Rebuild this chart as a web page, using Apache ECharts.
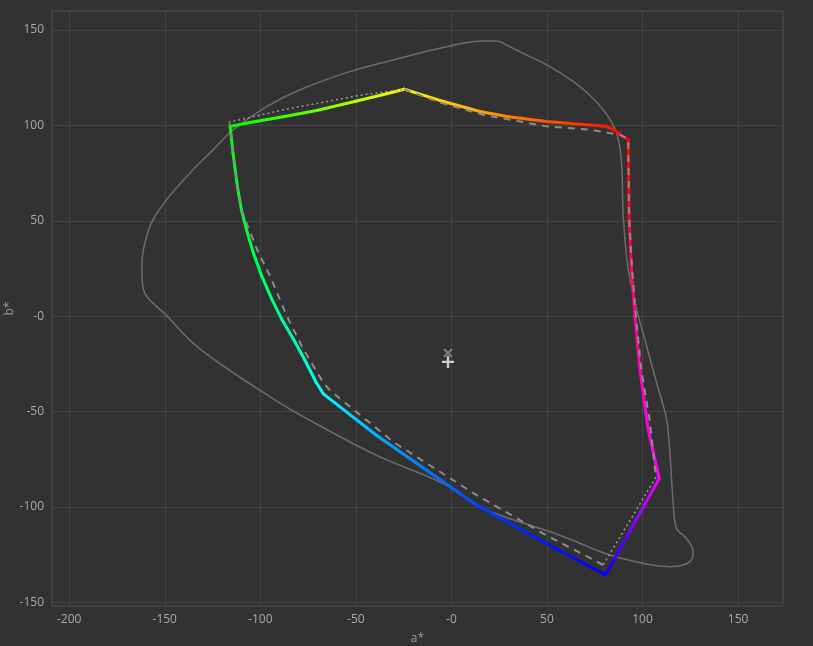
<!DOCTYPE html>
<html>
<head>
<meta charset="utf-8">
<script src="https://cdn.jsdelivr.net/npm/echarts@6/dist/echarts.min.js"></script>
<style>
html,body{margin:0;padding:0;background:#323232;}
#chart{width:813px;height:646px;}
</style>
</head>
<body>
<div id="chart"></div>
<script>
// Outer gray boundary (a*, b*)
const locusA = [-30.4, -6, 16.6, 23.6, 30, 37.6, 51.5, 67.2, 79.4, 86.4, 89, 89.9, 92.5, 96.9, 102.1, 107.3, 112.5, 114.3, 116, 117.8, 123, 126.5, 125.6, 121.2, 114.3, 100.3, 82.9, 56.7, 16.6, -4.3, -39.1, -74, -93.2, -131.5, -148.9, -161.2, -162, -157.7, -148.9, -136.8, -124.6, -114.1, -96.7, -79.2, -53.1, -30.4];
const locusB = [134.3, 140.5, 144.3, 144.3, 141.5, 137.8, 130.8, 120.4, 108.2, 96, 80.3, 52.4, 24.6, 3.7, -15.5, -34.7, -53.8, -71.3, -97.4, -111.3, -116.6, -123.5, -127.9, -130.5, -131.4, -129.6, -125.3, -114.9, -100.9, -87.8, -73, -54.7, -43.4, -17.3, 0.2, 14.1, 26.3, 47.2, 61.2, 75.1, 87.3, 97.8, 109.9, 118.7, 128.2, 134.3];

// Coloured gamut outline G -> Y -> R -> M -> B -> C -> G
const gamutA = [-115.8, -105.4, -88, -70.5, -49.6, -33.9, -24.8, -6, 14.9, 30, 49.8, 81.2, 84.6, 92.5, 93, 94.2, 96, 98.6, 102.9, 108.7, 80.6, 48, 13.2, -39.1, -67, -70.8, -77, -82.7, -88.8, -94, -99.3, -103.7, -107.3, -109.9, -112, -114.3, -115.8];
const gamutB = [99.5, 101.5, 104.5, 107.8, 112.8, 116.6, 119, 113.1, 107.3, 104.6, 102.1, 99.5, 97.8, 92.5, 50.7, 24.6, 0.2, -27.7, -59, -85.2, -135.7, -118.3, -99, -62.6, -40.8, -34.7, -22.5, -12, -1.6, 8.9, 21.1, 33.3, 45.5, 55.9, 68.1, 85.6, 99.5];

// Reference gamut, dashed parts
const refDash1A = [79.4, 48, 13.2, -30.4, -63.5, -67, -77.5, -86.2, -94.9, -101, -106, -109.9, -112, -114.3, -116];
const refDash1B = [-130.5, -114, -93.9, -66, -39, -35, -17.3, 0.2, 21.1, 33.3, 45.5, 55.9, 68.1, 85.6, 101];
const refDash2A = [-24.8, -6, 16.6, 49.8, 72.4, 88.1, 92.5, 93, 94.5, 96.5, 99.3, 103.8, 107];
const refDash2B = [119, 112, 105.6, 99.5, 97.8, 95.1, 93, 50.7, 24.6, 0.2, -27.7, -55, -84.5];
// Reference gamut, dotted parts
const refDot1A = [-116.7, -88, -49.6, -24.8];
const refDot1B = [101.6, 108.2, 115.5, 119];
const refDot2A = [107, 79.4];
const refDot2B = [-84.5, -130.5];

// White point markers
const whitePlus = [-1.8, -24];
const whiteCross = [-1.8, -19.3];

const xTicksMin = -209, xTicksMax = 173.5;
const yTicksMin = -152, yTicksMax = 160;

function zip(a, b) { return a.map((v, i) => [v, b[i]]); }

// hue of each outline point from its Lab hue angle
const hueAnchors = [[139.33, 120], [101.8, 60], [45, 0], [-38.1, -60], [-59.3, -120], [-148.7, -180], [-220.67, -240]];
function colorFor(a, b) {
  let ang = Math.atan2(b, a) * 180 / Math.PI;
  if (ang > 140) ang -= 360;
  let h = 120;
  for (let i = 0; i < hueAnchors.length - 1; i++) {
    const [a0, h0] = hueAnchors[i], [a1, h1] = hueAnchors[i + 1];
    if (ang <= a0 + 0.01 && ang >= a1 - 0.01) {
      const t = (a0 - ang) / (a0 - a1);
      h = h0 + (h1 - h0) * Math.max(0, Math.min(1, t));
      break;
    }
  }
  h = ((h % 360) + 360) % 360;
  return 'hsl(' + h.toFixed(1) + ',100%,50%)';
}

const segs = [];
for (let i = 0; i < gamutA.length - 1; i++) {
  const a1 = gamutA[i], b1 = gamutB[i], a2 = gamutA[i + 1], b2 = gamutB[i + 1];
  const c1 = colorFor(a1, b1), c2 = colorFor(a2, b2);
  const x = a1 <= a2 ? 0 : 1, y = b1 >= b2 ? 0 : 1;
  segs.push({
    coords: [[a1, b1], [a2, b2]],
    lineStyle: {
      color: new echarts.graphic.LinearGradient(x, y, 1 - x, 1 - y, [
        { offset: 0, color: c1 }, { offset: 1, color: c2 }
      ])
    }
  });
}

const fmt = v => (v === 0 ? '-0' : String(v));
const labelStyle = { color: '#a9a9a9', fontSize: 12, fontFamily: 'Open Sans' };

function grayLine(a, b, dash, width, color) {
  return {
    type: 'line', data: zip(a, b), showSymbol: false, symbol: 'none', silent: true, z: 4,
    lineStyle: { color: color, width: width, type: dash }
  };
}

const chart = echarts.init(document.getElementById('chart'), null, { renderer: 'canvas' });
chart.setOption({
  backgroundColor: '#323232',
  animation: false,
  grid: { left: 52, right: 30, top: 11, bottom: 40, show: true, borderColor: '#4a4a4a', borderWidth: 1,
          containLabel: false, outerBoundsMode: 'none' },
  xAxis: {
    type: 'value', min: xTicksMin, max: xTicksMax, minInterval: 50, maxInterval: 50,
    name: 'a*', nameLocation: 'middle', nameGap: 27, nameMoveOverlap: false,
    nameTextStyle: { color: '#9a9a9a', fontSize: 12, fontFamily: 'Open Sans' },
    axisLine: { show: false }, axisTick: { show: false },
    axisLabel: Object.assign({ formatter: fmt, margin: 8, showMinLabel: false, showMaxLabel: false }, labelStyle),
    splitLine: { lineStyle: { color: '#444444', width: 1 } }
  },
  yAxis: {
    type: 'value', min: yTicksMin, max: yTicksMax, minInterval: 50, maxInterval: 50,
    name: 'b*', nameLocation: 'middle', nameGap: 36, nameMoveOverlap: false,
    nameTextStyle: { color: '#9a9a9a', fontSize: 12, fontFamily: 'Open Sans' },
    axisLine: { show: false }, axisTick: { show: false },
    axisLabel: Object.assign({ formatter: fmt, margin: 8, showMinLabel: false, showMaxLabel: false }, labelStyle),
    splitLine: { lineStyle: { color: '#444444', width: 1 } }
  },
  series: [
    {
      type: 'line', data: zip(locusA, locusB), smooth: 0.35, showSymbol: false, symbol: 'none', silent: true, z: 2,
      lineStyle: { color: '#6c6c6c', width: 1.5 }
    },
    {
      type: 'lines', coordinateSystem: 'cartesian2d', polyline: false, silent: true, z: 3,
      lineStyle: { width: 3, opacity: 1, cap: 'round', join: 'round' },
      data: segs
    },
    grayLine(refDash1A, refDash1B, [7, 6], 2, '#8c8c8c'),
    grayLine(refDash2A, refDash2B, [7, 6], 2, '#8c8c8c'),
    grayLine(refDot1A, refDot1B, [2, 3], 1.5, '#9a9a9a'),
    grayLine(refDot2A, refDot2B, [2, 3], 1.5, '#9a9a9a'),
    {
      type: 'scatter', data: [whiteCross], silent: true, z: 5,
      symbol: 'path://M4,0H6V4H10V6H6V10H4V6H0V4H4Z', symbolSize: 11, symbolRotate: 45,
      itemStyle: { color: '#8e8e8e' }
    },
    {
      type: 'scatter', data: [whitePlus], silent: true, z: 6,
      symbol: 'path://M4,0H6V4H10V6H6V10H4V6H0V4H4Z', symbolSize: 12,
      itemStyle: { color: '#f2f2f2' }
    }
  ]
});
</script>
</body>
</html>
